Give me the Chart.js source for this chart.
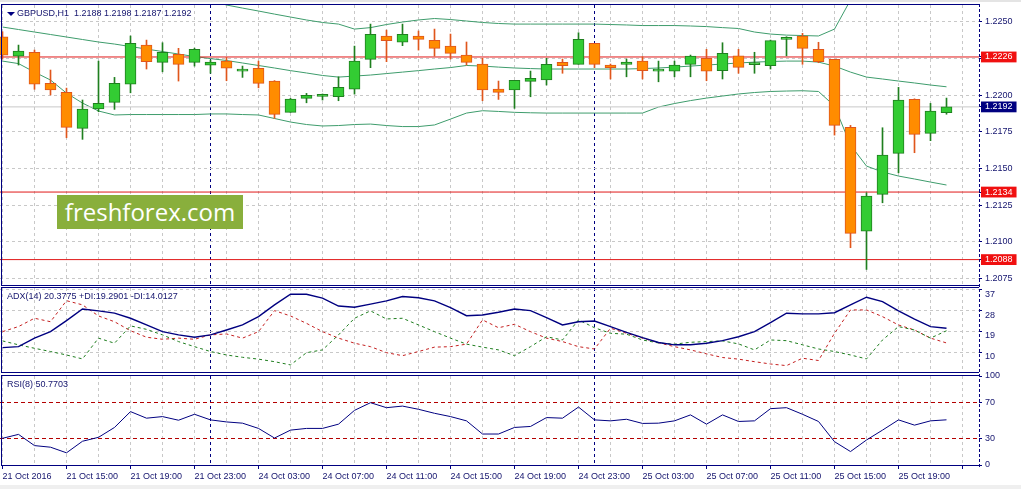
<!DOCTYPE html>
<html>
<head>
<meta charset="utf-8">
<title>GBPUSD,H1</title>
<script src="https://cdn.jsdelivr.net/npm/chart.js@4.4.1/dist/chart.umd.min.js"></script>
<style>
  html, body { margin: 0; padding: 0; background: #fff; }
  #wrap { position: relative; width: 1021px; height: 489px; overflow: hidden; background: #fff;
          font-family: 'Liberation Sans', Arial, sans-serif; color: #14146e; }
  canvas { position: absolute; left: 0; }
  .frame { position: absolute; left: 1px; width: 978px; box-sizing: border-box;
           border: 1px solid #000080; border-right: none; pointer-events: none; }
  .axisline { position: absolute; left: 979px; top: 4px; height: 463px; width: 0;
              border-left: 1px dashed #000080; }
  .lbl { position: absolute; left: 7px; font-size: 9px; line-height: 11px; white-space: nowrap; }
  .tri { position: absolute; left: 7px; top: 12px; width: 0; height: 0;
         border-left: 4px solid transparent; border-right: 4px solid transparent; border-top: 4px solid #000080; }
  .strip { position: absolute; left: 0; width: 1021px; background: #e4e4e4; }
  .wm { position: absolute; left: 57px; top: 195px; width: 186px; height: 34px; background: #89af3c;
        color: #fff; font-family: 'Open Sans', sans-serif; font-size: 24px; line-height: 34px;
        text-align: center; z-index: 5; }
</style>
</head>
<body>
<div id="wrap">
  <div class="strip" style="top:0;height:2px"></div>
  <div class="strip" style="top:485px;height:4px;background:#efefef"></div>

  <canvas id="main" width="1021" height="280" style="top:5px"></canvas>
  <canvas id="adx" width="1021" height="85" style="top:288px"></canvas>
  <canvas id="rsi" width="1021" height="119" style="top:370px"></canvas>

  <div class="frame" style="top:4px;height:282px"></div>
  <div class="frame" style="top:287px;height:86px"></div>
  <div class="frame" style="top:375px;height:91px"></div>
  <div class="axisline"></div>

  <div class="tri"></div>
  <div class="lbl" style="left:17px;top:8px">GBPUSD,H1&nbsp; 1.2188 1.2198 1.2187 1.2192</div>
  <div class="lbl" style="top:291px">ADX(14) 20.3775 +DI:19.2901 -DI:14.0127</div>
  <div class="lbl" style="top:379px">RSI(8) 50.7703</div>
  <div class="wm">freshforex.com</div>
</div>
<script>
// hourly bars, 21 Oct 11:00 .. 25 Oct 22:00
const opens = [1.22398,1.22266,1.22292,1.22080,1.22019,1.21774,1.21907,1.21951,1.22074,1.22341,
  1.22223,1.22278,1.22223,1.22205,1.22232,1.22164,1.22183,1.22096,1.21883,1.21978,
  1.21992,1.21989,1.22040,1.22244,1.22403,1.22360,1.22403,1.22373,1.22334,1.22273,
  1.22212,1.22042,1.22035,1.22094,1.22103,1.22223,1.22210,1.22353,1.22205,1.22210,
  1.22232,1.22164,1.22164,1.22210,1.22251,1.22166,1.22268,1.22208,1.22200,1.22380,
  1.22403,1.22312,1.22244,1.21781,1.21074,1.21324,1.21604,1.21971,1.21740,1.21880];
const highs = [1.22432,1.22341,1.22307,1.22171,1.22048,1.21967,1.22232,1.22121,1.22403,1.22375,
  1.22357,1.22319,1.22320,1.22239,1.22257,1.22198,1.22232,1.22099,1.21978,1.22012,
  1.22008,1.22125,1.22334,1.22484,1.22443,1.22484,1.22437,1.22450,1.22416,1.22362,
  1.22251,1.22096,1.22101,1.22164,1.22251,1.22246,1.22425,1.22353,1.22212,1.22246,
  1.22262,1.22232,1.22232,1.22273,1.22312,1.22357,1.22312,1.22292,1.22375,1.22398,
  1.22421,1.22360,1.22244,1.21794,1.21335,1.21778,1.22053,1.21975,1.21944,1.21980];
const lows = [1.22246,1.22205,1.22040,1.22001,1.21710,1.21699,1.21887,1.21903,1.22016,1.22178,
  1.22159,1.22096,1.22198,1.22149,1.22098,1.22121,1.22050,1.21842,1.21883,1.21948,
  1.21967,1.21962,1.22007,1.22187,1.22228,1.22337,1.22307,1.22266,1.22246,1.22205,
  1.21962,1.21971,1.21910,1.21989,1.22069,1.22149,1.22210,1.22187,1.22110,1.22125,
  1.22110,1.22091,1.22125,1.22125,1.22098,1.22110,1.22149,1.22149,1.22178,1.22268,
  1.22210,1.22221,1.21728,1.20961,1.20813,1.21267,1.21471,1.21608,1.21690,1.21870];
const closes = [1.22273,1.22300,1.22074,1.22035,1.21781,1.21905,1.21944,1.22080,1.22353,1.22228,
  1.22292,1.22210,1.22312,1.22225,1.22183,1.22168,1.22080,1.21869,1.21974,1.21999,
  1.21996,1.22053,1.22232,1.22414,1.22371,1.22414,1.22380,1.22319,1.22285,1.22223,
  1.22035,1.22019,1.22101,1.22115,1.22210,1.22200,1.22380,1.22210,1.22187,1.22225,
  1.22166,1.22168,1.22205,1.22266,1.22164,1.22285,1.22189,1.22212,1.22371,1.22391,
  1.22319,1.22228,1.21794,1.21059,1.21313,1.21592,1.21967,1.21733,1.21892,1.21920];

// bollinger bands
const bbUpper = [1.22695,1.22678,1.22702,1.22723,1.22777,1.22811,1.22832,1.22832,1.22794,1.22760,
  1.22726,1.22698,1.22672,1.22645,1.22614,1.22593,1.22573,1.22552,1.22532,1.22512,
  1.22495,1.22484,1.22450,1.22460,1.22481,1.22498,1.22512,1.22522,1.22515,1.22505,
  1.22495,1.22488,1.22484,1.22484,1.22484,1.22484,1.22484,1.22484,1.22481,1.22478,
  1.22474,1.22474,1.22474,1.22471,1.22467,1.22460,1.22454,1.22430,1.22416,1.22409,
  1.22406,1.22403,1.22450,1.22648,1.22729,1.22743,1.22743,1.22736,1.22729,1.22727];
const bbMiddle = [1.22464,1.22447,1.22430,1.22413,1.22396,1.22379,1.22362,1.22348,1.22331,1.22314,
  1.22297,1.22280,1.22263,1.22249,1.22236,1.22219,1.22202,1.22185,1.22167,1.22151,
  1.22134,1.22123,1.22130,1.22137,1.22147,1.22157,1.22167,1.22178,1.22188,1.22202,
  1.22198,1.22191,1.22185,1.22181,1.22178,1.22178,1.22178,1.22178,1.22178,1.22178,
  1.22181,1.22185,1.22191,1.22198,1.22205,1.22212,1.22219,1.22225,1.22229,1.22232,
  1.22232,1.22225,1.22198,1.22157,1.22123,1.22110,1.22096,1.22083,1.22069,1.22057];
const bbLower = [1.22232,1.22215,1.22157,1.22103,1.22014,1.21946,1.21892,1.21865,1.21868,1.21868,
  1.21868,1.21868,1.21868,1.21872,1.21872,1.21868,1.21865,1.21841,1.21817,1.21800,
  1.21790,1.21793,1.21800,1.21803,1.21793,1.21786,1.21786,1.21797,1.21837,1.21878,
  1.21894,1.21889,1.21883,1.21880,1.21878,1.21878,1.21878,1.21878,1.21878,1.21878,
  1.21878,1.21919,1.21943,1.21963,1.21980,1.21994,1.22008,1.22018,1.22025,1.22028,
  1.22030,1.22025,1.21926,1.21660,1.21517,1.21477,1.21449,1.21429,1.21408,1.21388];

// ADX(14)
const adxMain = [12.0,12.4,16.1,18.9,23.7,28.7,27.9,26.9,24.7,21.8,
  18.9,17.5,16.5,17.5,19.6,21.8,25.4,30.5,35.1,35.1,
  33.4,30.0,29.5,30.8,32.2,34.1,33.6,32.2,29.3,25.8,
  26.1,27.3,28.7,28.0,25.0,21.8,23.2,23.5,21.1,18.6,
  16.3,14.2,13.2,13.2,13.9,15.0,16.7,18.9,22.8,26.9,
  26.6,26.6,27.1,30.5,33.8,31.9,27.9,24.3,21.1,20.38];
const plusDI = [14.9,13.2,11.7,10.3,8.8,7.1,16.1,13.9,21.4,19.9,
  17.5,14.6,12.4,10.3,8.8,7.8,7.0,5.9,4.5,9.8,
  11.0,17.5,24.7,27.9,24.4,24.7,21.8,18.9,16.1,13.5,
  12.2,11.0,8.5,12.4,16.7,15.3,24.0,20.6,18.2,17.8,
  15.3,14.0,13.5,14.3,14.6,14.9,13.6,11.0,15.3,15.0,
  13.2,11.4,10.3,8.8,7.1,15.3,21.1,19.6,16.1,19.29];
const minusDI = [18.9,21.1,24.7,23.2,32.3,30.5,25.7,23.2,19.3,16.5,
  15.6,16.1,15.6,17.5,17.9,16.1,18.9,28.0,25.7,22.5,
  18.9,16.1,13.9,12.4,9.8,8.5,10.3,12.2,12.4,13.5,
  24.0,20.6,22.1,18.9,16.1,14.6,12.4,11.4,20.4,18.2,
  16.1,14.1,12.4,11.0,9.3,7.7,7.0,5.9,4.9,4.2,
  7.4,6.4,18.2,28.3,28.3,25.4,21.8,19.6,16.1,14.01];

// RSI(8)
const rsi8 = [30.0,34.4,21.8,20.0,13.7,26.7,31.1,42.2,60.0,52.6,
  54.4,50.3,57.0,50.7,48.4,47.0,41.1,30.3,39.2,41.1,
  41.1,45.9,61.4,70.0,64.4,66.2,62.6,58.1,54.4,49.6,
  34.8,34.8,42.2,43.3,53.3,52.6,65.1,50.7,49.6,51.4,
  46.7,47.0,49.6,56.3,45.9,56.3,48.9,49.6,63.3,64.4,
  57.0,48.9,26.2,15.1,28.1,39.2,50.7,44.8,49.6,50.77];

// one label every 4 bars
const timeLabels = ['21 Oct 2016','21 Oct 15:00','21 Oct 19:00','21 Oct 23:00','24 Oct 03:00',
  '24 Oct 07:00','24 Oct 11:00','24 Oct 15:00','24 Oct 19:00','24 Oct 23:00',
  '25 Oct 03:00','25 Oct 07:00','25 Oct 11:00','25 Oct 15:00','25 Oct 19:00'];
const priceTicks = [1.2250, 1.2225, 1.2200, 1.2175, 1.2150, 1.2125, 1.2100, 1.2075];
const levelLines = [1.2226, 1.2134, 1.2088];
const bidPrice = 1.2192;
const adxTicks = [37, 28, 19, 10];
const rsiTicks = [100, 70, 30, 0];
const rsiLevels = [70, 30];
const separators = [13, 37];   // day starts: 24 Oct 00:00, 25 Oct 00:00

const X_MIN = -0.15625, X_MAX = 61.03125;
const NAVY = '#000080', TEXT = '#14146e', GRID = '#c8c8c8', NONE = 'rgba(0,0,0,0)';
const BULL = '#33cc33', BULL_EDGE = '#1f7f1f', BEAR = '#ff8c00', BEAR_EDGE = '#e0561c';
const BAND = '#3e9c6c', LEVEL = '#e01818';

Chart.defaults.font.family = "'Liberation Sans', Arial, sans-serif";
Chart.defaults.font.size = 9;
Chart.defaults.color = TEXT;

const isBull = i => closes[i] >= opens[i];
const pts = arr => arr.map((v, i) => ({x: i, y: v}));
const hline = v => [{x: X_MIN, y: v}, {x: X_MAX, y: v}];

function xAxis(showLabels) {
  return {
    type: 'linear', min: X_MIN, max: X_MAX, position: 'bottom', offset: false,
    afterBuildTicks: s => { s.ticks = []; for (let i = 0; i <= 60; i += 2) s.ticks.push({value: i}); },
    grid: {
      offset: false, color: GRID, drawTicks: showLabels, tickLength: 4, borderDash: [3, 3],
      tickColor: c => (c.tick && c.tick.value % 4 === 0) ? NAVY : NONE
    },
    border: { display: false, dash: [3, 3] },
    ticks: {
      display: showLabels, autoSkip: false, maxRotation: 0, align: 'start', padding: 2,
      callback: v => v % 4 === 0 ? (timeLabels[v / 4] || '') : ''
    },
    afterFit: s => { s.height = showLabels ? 24 : 0; s.paddingLeft = 0; s.paddingRight = 0; }
  };
}

function sepAxis() {
  return {
    type: 'linear', min: X_MIN, max: X_MAX, position: 'bottom', offset: false,
    afterBuildTicks: s => { s.ticks = separators.map(v => ({value: v})); },
    grid: { offset: false, color: NAVY, drawTicks: false, borderDash: [3, 3] },
    border: { display: false, dash: [3, 3] },
    ticks: { display: false },
    afterFit: s => { s.height = 0; s.paddingLeft = 0; s.paddingRight = 0; }
  };
}

function yFit(s) { s.width = 42; s.paddingTop = 0; s.paddingBottom = 0; }

const base = {
  responsive: false, animation: false, events: [],
  layout: { padding: 0 },
  plugins: { legend: { display: false }, tooltip: { enabled: false } }
};

// price panel
new Chart(document.getElementById('main'), {
  data: {
    datasets: [
      { type: 'bar', data: opens.map((o, i) => ({x: i, y: [o, closes[i]]})),
        barThickness: 11, minBarLength: 2, grouped: false, borderWidth: 1, borderSkipped: false,
        backgroundColor: c => isBull(c.dataIndex) ? BULL : BEAR,
        borderColor: c => isBull(c.dataIndex) ? BULL_EDGE : BEAR_EDGE, order: 1 },
      { type: 'bar', data: lows.map((l, i) => ({x: i, y: [l, highs[i]]})),
        barThickness: 1, grouped: false, borderWidth: 0,
        backgroundColor: c => isBull(c.dataIndex) ? BULL_EDGE : BEAR_EDGE, order: 2 },
      ...levelLines.map(v => ({ type: 'line', data: hline(v), borderColor: LEVEL, borderWidth: 1,
        pointRadius: 0, order: 3 })),
      { type: 'line', data: hline(bidPrice), borderColor: '#c8c8c8', borderWidth: 1, pointRadius: 0, order: 4 },
      { type: 'line', data: pts(bbUpper), borderColor: BAND, borderWidth: 1, pointRadius: 0, order: 5 },
      { type: 'line', data: pts(bbMiddle), borderColor: BAND, borderWidth: 1, pointRadius: 0, order: 5 },
      { type: 'line', data: pts(bbLower), borderColor: BAND, borderWidth: 1, pointRadius: 0, order: 5 }
    ]
  },
  options: Object.assign({}, base, {
    scales: {
      x: xAxis(false),
      xs: sepAxis(),
      y: {
        position: 'right', min: 1.20707, max: 1.22614,
        afterBuildTicks: s => { s.ticks = priceTicks.concat(levelLines, [bidPrice]).map(v => ({value: v})); },
        grid: { color: c => (c.tick && priceTicks.includes(c.tick.value)) ? GRID : NONE,
                tickLength: 3, tickColor: NAVY, borderDash: [3, 3] },
        border: { display: false, dash: [3, 3] },
        ticks: {
          autoSkip: false, padding: 3, callback: v => v.toFixed(4),
          showLabelBackdrop: true, backdropPadding: {top: 0, bottom: 0, left: 4, right: 4},
          color: c => (levelLines.includes(c.tick.value) || c.tick.value === bidPrice) ? '#ffffff' : TEXT,
          backdropColor: c => levelLines.includes(c.tick.value) ? '#f01010'
                              : (c.tick.value === bidPrice ? NAVY : NONE)
        },
        afterFit: yFit
      }
    }
  })
});

// ADX panel
new Chart(document.getElementById('adx'), {
  type: 'line',
  data: {
    datasets: [
      { data: pts(adxMain), borderColor: NAVY, borderWidth: 1.4, pointRadius: 0 },
      { data: pts(plusDI), borderColor: '#1e7d1e', borderWidth: 1, borderDash: [3, 3], pointRadius: 0 },
      { data: pts(minusDI), borderColor: '#c42020', borderWidth: 1, borderDash: [3, 3], pointRadius: 0 }
    ]
  },
  options: Object.assign({}, base, {
    scales: {
      x: xAxis(false),
      xs: sepAxis(),
      y: {
        position: 'right', min: 1.0, max: 37.8,
        afterBuildTicks: s => { s.ticks = adxTicks.map(v => ({value: v})); },
        grid: { color: GRID, tickLength: 3, tickColor: NAVY, borderDash: [3, 3] },
        border: { display: false, dash: [3, 3] },
        ticks: { autoSkip: false, align: 'start', padding: 3, callback: v => String(v) },
        afterFit: yFit
      }
    }
  })
});

// RSI panel
new Chart(document.getElementById('rsi'), {
  type: 'line',
  data: {
    datasets: [
      { data: pts(rsi8), borderColor: NAVY, borderWidth: 1, pointRadius: 0 }
    ]
  },
  options: Object.assign({}, base, {
    layout: { padding: { top: 6 } },
    scales: {
      x: xAxis(true),
      xs: sepAxis(),
      y: {
        position: 'right', min: 0, max: 100,
        afterBuildTicks: s => { s.ticks = rsiTicks.map(v => ({value: v})); },
        grid: { color: c => (c.tick && rsiLevels.includes(c.tick.value)) ? '#b40000' : NONE,
                tickLength: 3, tickColor: NAVY, borderDash: [4, 3] },
        border: { display: false, dash: [4, 3] },
        ticks: { autoSkip: false, padding: 3, callback: v => String(v) },
        afterFit: yFit
      }
    }
  })
});
</script>
</body>
</html>
